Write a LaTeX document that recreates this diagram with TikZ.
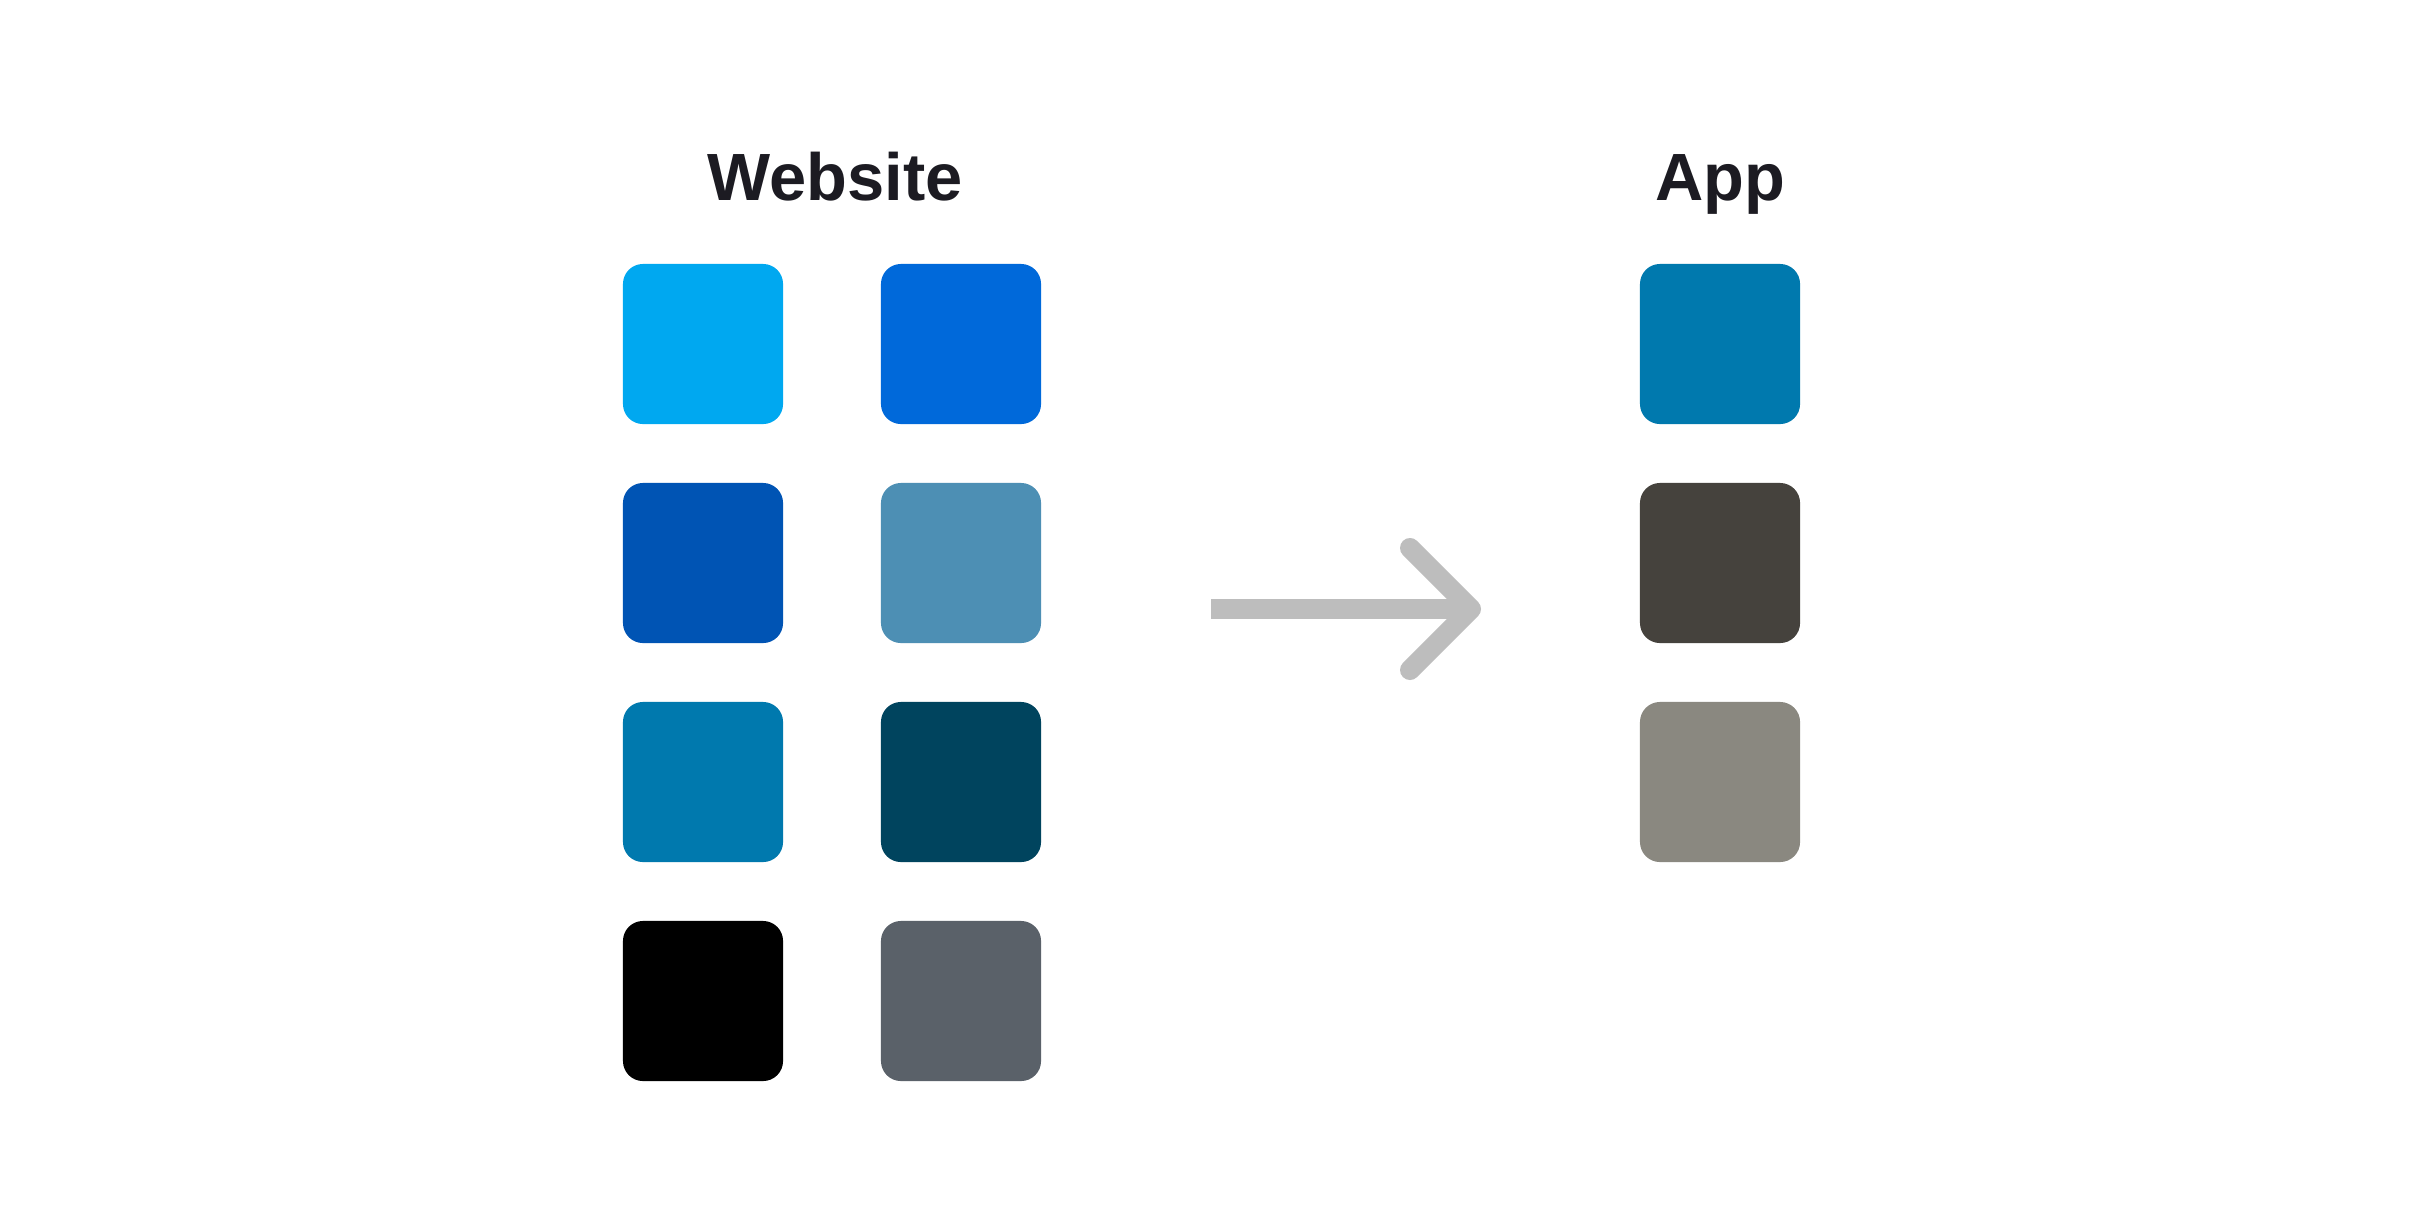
\documentclass[tikz,border=0pt]{standalone}
\usepackage{fontspec}
\setmainfont{Liberation Sans}
\begin{document}
\begin{tikzpicture}[x=0.01cm,y=-0.01cm,
  swatch/.style={minimum width=1.6cm,minimum height=1.6cm,inner sep=0pt,
    rounded corners=0.2cm,fill=#1,draw=none},
  heading/.style={anchor=base,font=\bfseries\fontsize{19}{22}\selectfont,text=titlecol,inner sep=0pt},
  arrowline/.style={draw=arrowgray,line width=0.2cm}]
\definecolor{titlecol}{HTML}{1C1B22}
\definecolor{arrowgray}{HTML}{BDBDBD}
\definecolor{cA}{HTML}{00A8F0}
\definecolor{cB}{HTML}{0069DA}
\definecolor{cC}{HTML}{0054B4}
\definecolor{cD}{HTML}{4D8FB4}
\definecolor{cE}{HTML}{0079AE}
\definecolor{cF}{HTML}{00445E}
\definecolor{cG}{HTML}{000000}
\definecolor{cH}{HTML}{5A6169}
\definecolor{cI}{HTML}{45423D}
\definecolor{cJ}{HTML}{8A8880}
\useasboundingbox[fill=white] (0,0) rectangle (2425,1218);

% headings
\node[heading] (web) at (835,200) {Website};
\node[heading] (app) at (1720,200) {App};

% website palette
\node[swatch=cA] (w1) at (703,344) {};
\node[swatch=cB] (w2) at (961,344) {};
\node[swatch=cC] (w3) at (703,563) {};
\node[swatch=cD] (w4) at (961,563) {};
\node[swatch=cE] (w5) at (703,782) {};
\node[swatch=cF] (w6) at (961,782) {};
\node[swatch=cG] (w7) at (703,1001) {};
\node[swatch=cH] (w8) at (961,1001) {};

% app palette
\node[swatch=cE] (a1) at (1720,344) {};
\node[swatch=cI] (a2) at (1720,563) {};
\node[swatch=cJ] (a3) at (1720,782) {};

% mapping arrow: shaft runs into the head's vertex so no seam shows
\coordinate (tail) at (1211,609);
\coordinate (tip) at (1471,609);
\coordinate (armup) at (1410,548);
\coordinate (armdown) at (1410,670);
\draw[arrowline,line cap=butt] (tail) -- (tip);
\draw[arrowline,line cap=round,line join=round] (armup) -- (tip) -- (armdown);
\end{tikzpicture}
\end{document}
